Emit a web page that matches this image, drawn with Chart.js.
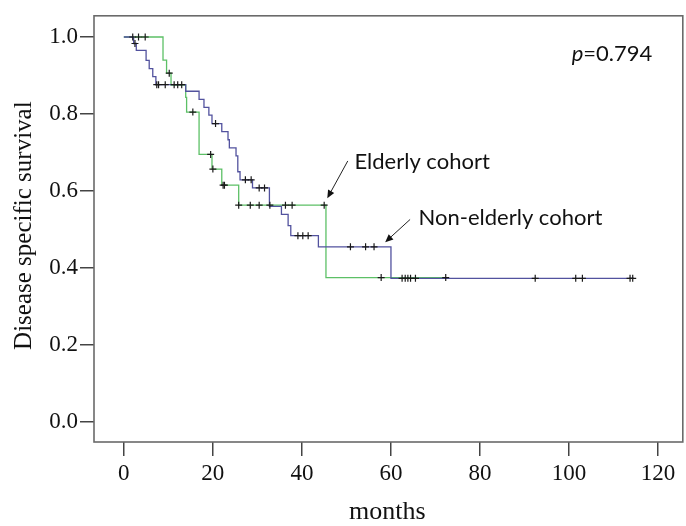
<!DOCTYPE html>
<html>
<head>
<meta charset="utf-8">
<script src="https://cdn.jsdelivr.net/npm/chart.js@4"></script>
<style>
  body { margin: 0; background: #fff; }
  canvas { display: block; }
</style>
</head>
<body>
<canvas id="km-chart" width="686" height="526"></canvas>
<script>
// elderly cohort (green) – step points: month, survival
const elderlyMonths = [0, 8.8, 9.6, 10.6, 13.9, 14.1, 16.9, 19.8, 22.0, 25.8, 45.4, 72.3];
const elderlySurv = [1.0, 0.94, 0.906, 0.875, 0.843, 0.805, 0.695, 0.657, 0.615, 0.563, 0.375, 0.375];
const elderlyCensorMonths = [3.3, 4.8, 10.2, 15.5, 19.5, 20.0, 22.3, 22.6, 25.8, 28.4, 30.4, 32.8, 36.3, 37.8, 45.0, 57.8, 72.3];
const elderlyCensorSurv = [1.0, 1.0, 0.906, 0.805, 0.695, 0.657, 0.615, 0.615, 0.563, 0.563, 0.563, 0.563, 0.563, 0.563, 0.563, 0.375, 0.375];

// non-elderly cohort (blue)
const nonElderlyMonths = [0, 2.2, 2.8, 5.0, 5.7, 6.5, 7.2, 13.9, 16.9, 18.0, 19.1, 19.8, 22.0, 23.4, 23.7, 25.2, 25.6, 26.1, 28.9, 32.7, 35.4, 36.9, 37.5, 43.7, 60.0, 114.6];
const nonElderlySurv = [1.0, 0.983, 0.965, 0.939, 0.918, 0.897, 0.876, 0.859, 0.838, 0.817, 0.797, 0.775, 0.754, 0.733, 0.712, 0.691, 0.65, 0.629, 0.608, 0.56, 0.539, 0.51, 0.484, 0.455, 0.373, 0.373];
const nonElderlyCensorMonths = [2.0, 2.5, 7.4, 7.8, 9.3, 11.3, 12.1, 13.0, 20.6, 27.3, 28.6, 30.4, 31.6, 39.1, 40.2, 41.4, 50.9, 54.3, 56.2, 62.5, 63.2, 63.8, 64.4, 65.5, 92.4, 101.5, 103.0, 113.7, 114.3];
const nonElderlyCensorSurv = [1.0, 0.983, 0.876, 0.876, 0.876, 0.876, 0.876, 0.876, 0.775, 0.629, 0.629, 0.608, 0.608, 0.484, 0.484, 0.484, 0.455, 0.455, 0.455, 0.373, 0.373, 0.373, 0.373, 0.373, 0.373, 0.373, 0.373, 0.373, 0.373];

const xTicks = [0, 20, 40, 60, 80, 100, 120];
const yTicks = [0, 0.2, 0.4, 0.6, 0.8, 1.0];

const toPoints = (xs, ys) => xs.map((x, i) => ({ x: x, y: ys[i] }));

const GREEN = "#5cc066";
const BLUE = "#52529e";
const serif = "'Liberation Serif', 'Times New Roman', serif";
const sans = "Lato, 'Open Sans', sans-serif";

// box round the plot, y title, arrows and text labels
const extras = {
    id: "extras",
    afterDraw(chart) {
        const { ctx, chartArea, scales } = chart;
        const px = v => scales.x.getPixelForValue(v);
        const py = v => scales.y.getPixelForValue(v);

        ctx.save();
        ctx.strokeStyle = "#6a6a6a";
        ctx.lineWidth = 1.6;
        ctx.strokeRect(chartArea.left, chartArea.top, chartArea.right - chartArea.left + 2, chartArea.bottom - chartArea.top);

        // y axis title, sits a little above the middle of the axis
        ctx.save();
        ctx.translate(24, py(0.51));
        ctx.rotate(-Math.PI / 2);
        ctx.textAlign = "center";
        ctx.textBaseline = "middle";
        ctx.fillStyle = "#111";
        ctx.font = "25px " + serif;
        ctx.fillText("Disease specific survival", 0, 0);
        ctx.restore();

        const arrow = (x1, y1, x2, y2) => {
            const a = Math.atan2(y2 - y1, x2 - x1);
            ctx.strokeStyle = "#222";
            ctx.lineWidth = 1;
            ctx.beginPath();
            ctx.moveTo(x1, y1);
            ctx.lineTo(x2 - 6 * Math.cos(a), y2 - 6 * Math.sin(a));
            ctx.stroke();
            ctx.fillStyle = "#111";
            ctx.beginPath();
            ctx.moveTo(x2, y2);
            ctx.lineTo(x2 - 8 * Math.cos(a) + 3.5 * Math.sin(a), y2 - 8 * Math.sin(a) - 3.5 * Math.cos(a));
            ctx.lineTo(x2 - 8 * Math.cos(a) - 3.5 * Math.sin(a), y2 - 8 * Math.sin(a) + 3.5 * Math.cos(a));
            ctx.closePath();
            ctx.fill();
        };
        arrow(px(50.3), py(0.678), px(45.7), py(0.581));
        arrow(px(64.3), py(0.526), px(58.7), py(0.467));

        ctx.fillStyle = "#111";
        ctx.textBaseline = "alphabetic";
        ctx.font = "22px " + sans;
        ctx.fillText("Elderly cohort", px(51.8), py(0.657));
        ctx.fillText("Non-elderly cohort", px(66.2), py(0.511));

        ctx.font = "italic 22px " + sans;
        const pX = px(100.6);
        ctx.fillText("p", pX, py(0.9376));
        const w = ctx.measureText("p").width;
        ctx.font = "22px " + sans;
        ctx.fillText("=0.794", pX + w, py(0.9376));
        ctx.restore();
    },
};

new Chart(document.querySelector("#km-chart"), {
    type: "scatter",
    data: {
        datasets: [
            {
                label: "Elderly censored",
                data: toPoints(elderlyCensorMonths, elderlyCensorSurv),
                pointStyle: "cross",
                pointRadius: 3.5,
                borderColor: "#1a1a1a",
                borderWidth: 1.2,
                showLine: false,
                order: 0,
            },
            {
                label: "Non-elderly censored",
                data: toPoints(nonElderlyCensorMonths, nonElderlyCensorSurv),
                pointStyle: "cross",
                pointRadius: 3.5,
                borderColor: "#1a1a1a",
                borderWidth: 1.2,
                showLine: false,
                order: 0,
            },
            {
                label: "Non-elderly cohort",
                data: toPoints(nonElderlyMonths, nonElderlySurv),
                showLine: true,
                stepped: true,
                borderColor: BLUE,
                borderWidth: 1.3,
                pointRadius: 0,
                order: 1,
            },
            {
                label: "Elderly cohort",
                data: toPoints(elderlyMonths, elderlySurv),
                showLine: true,
                stepped: true,
                borderColor: GREEN,
                borderWidth: 1.3,
                pointRadius: 0,
                order: 2,
            },
        ],
    },
    options: {
        responsive: false,
        animation: false,
        layout: { padding: { top: 4, right: 0, left: 0, bottom: 0 } },
        plugins: {
            legend: { display: false },
            tooltip: { enabled: false },
        },
        scales: {
            x: {
                type: "linear",
                min: -6.7,
                max: 125.1,
                afterFit: s => { s.height = 84; },
                afterBuildTicks: s => { s.ticks = xTicks.map(v => ({ value: v })); },
                border: { display: false },
                grid: { drawOnChartArea: false, drawTicks: true, tickLength: 14, color: "#444", lineWidth: 1.5 },
                ticks: { autoSkip: false, maxRotation: 0, padding: 4, color: "#111", font: { family: serif, size: 23 } },
                title: { display: true, text: "months", color: "#111", font: { family: serif, size: 26 }, padding: { top: 0, bottom: -2 } },
            },
            y: {
                type: "linear",
                min: -0.052,
                max: 1.055,
                afterFit: s => { s.width = 94; },
                afterBuildTicks: s => { s.ticks = yTicks.map(v => ({ value: v })); },
                border: { display: false },
                grid: { drawOnChartArea: false, drawTicks: true, tickLength: 14, color: "#444", lineWidth: 1.5 },
                ticks: { autoSkip: false, padding: 2, color: "#111", font: { family: serif, size: 23 }, callback: v => v.toFixed(1) },
            },
        },
    },
    plugins: [extras],
});
</script>
</body>
</html>
